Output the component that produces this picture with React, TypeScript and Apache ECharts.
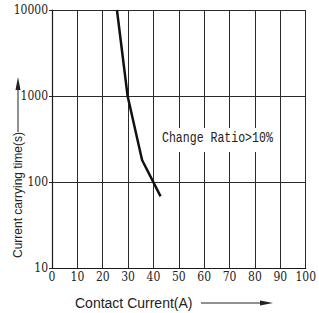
import React, { useEffect, useRef } from "react";
import * as echarts from "echarts";

const currentA = [25.6, 29.8, 35.5, 42.8];
const timeS = [10000, 1000, 180, 68];
const xTicks = [0, 10, 20, 30, 40, 50, 60, 70, 80, 90, 100];
const yTicks = [10, 100, 1000, 10000];
const xName = "Contact Current(A)";
const yName = "Current carrying time(s)";
const note = "Change Ratio>10%";

const SERIF = "DejaVu Serif Condensed";
const SANS = "Liberation Sans";
const MONO = "Liberation Mono";

export default function App() {
  const ref = useRef<HTMLDivElement>(null);
  useEffect(() => {
    if (!ref.current) return;
    const chart = echarts.init(ref.current, undefined, { renderer: "svg" });
    const data = currentA.map((x, i) => [x, timeS[i]]);
    chart.setOption({
      animation: false,
      backgroundColor: "#fff",
      grid: { left: 52, top: 10, right: 10, bottom: 45 },
      xAxis: {
        type: "value",
        min: xTicks[0],
        max: xTicks[xTicks.length - 1],
        interval: 10,
        axisLine: { show: true, lineStyle: { color: "#1a1a1a", width: 1.2 } },
        axisTick: { show: false },
        splitLine: { show: true, lineStyle: { color: "#2a2a2a", width: 1 } },
        axisLabel: {
          margin: 3,
          color: "#222",
          fontFamily: SERIF,
          fontSize: 12,
          formatter: (v: number) => String(v),
        },
      },
      yAxis: {
        type: "log",
        logBase: 10,
        min: yTicks[0],
        max: yTicks[yTicks.length - 1],
        axisLine: { show: true, lineStyle: { color: "#1a1a1a", width: 1.2 } },
        axisTick: { show: true, length: 3, lineStyle: { color: "#222" } },
        splitLine: { show: true, lineStyle: { color: "#2a2a2a", width: 1 } },
        axisLabel: {
          margin: 4,
          color: "#222",
          fontFamily: SERIF,
          fontSize: 12,
          formatter: (v: number) => String(Math.round(v)),
        },
      },
      series: [
        {
          type: "line",
          data,
          symbol: "none",
          lineStyle: { color: "#111", width: 2.5 },
          z: 5,
        },
      ],
      graphic: [
        {
          type: "rect",
          z: 50,
          shape: { x: 157, y: 128, width: 119, height: 24 },
          style: { fill: "#fff" },
        },
        {
          type: "text",
          z: 51,
          x: 162,
          y: 138,
          scaleX: 0.77,
          style: {
            text: note,
            fontFamily: MONO,
            fontSize: 15,
            fill: "#222",
            textAlign: "left",
            textVerticalAlign: "middle",
          },
        },
        {
          type: "text",
          z: 51,
          x: 18,
          y: 195,
          rotation: Math.PI / 2,
          style: {
            text: yName,
            fontFamily: SANS,
            fontSize: 12,
            fill: "#222",
            textAlign: "center",
            textVerticalAlign: "middle",
          },
        },
        {
          type: "line",
          z: 51,
          shape: { x1: 18, y1: 132, x2: 18, y2: 88 },
          style: { stroke: "#222", lineWidth: 1 },
        },
        {
          type: "polygon",
          z: 51,
          shape: { points: [[18, 77], [15.5, 90], [20.5, 90]] },
          style: { fill: "#222" },
        },
        {
          type: "text",
          z: 51,
          x: 75,
          y: 303,
          style: {
            text: xName,
            fontFamily: SANS,
            fontSize: 14,
            fill: "#222",
            textAlign: "left",
            textVerticalAlign: "middle",
          },
        },
        {
          type: "line",
          z: 51,
          shape: { x1: 201, y1: 303, x2: 262, y2: 303 },
          style: { stroke: "#222", lineWidth: 1 },
        },
        {
          type: "polygon",
          z: 51,
          shape: { points: [[273, 303], [260, 300.5], [260, 305.5]] },
          style: { fill: "#222" },
        },
      ],
    });
    return () => chart.dispose();
  }, []);
  return (
    <div
      ref={ref}
      style={{ position: "fixed", left: 0, top: 0, width: 319, height: 313 }}
    />
  );
}
